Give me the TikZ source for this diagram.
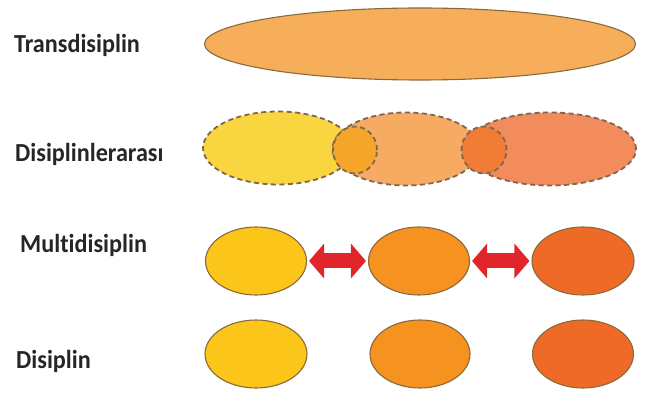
\documentclass[tikz,border=0pt]{standalone}
\usepackage{fontspec}
\setmainfont[RawFeature=-liga]{Carlito}
\usetikzlibrary{shapes.geometric,arrows.meta}
\definecolor{transfill}{HTML}{F6AE5B}
\definecolor{edge}{HTML}{8A6A3C}
\definecolor{dedge}{HTML}{7E6650}
\definecolor{iyel}{HTML}{F9D640}
\definecolor{iora}{HTML}{F6AA62}
\definecolor{ired}{HTML}{F28C5C}
\definecolor{ovA}{HTML}{F5A52A}
\definecolor{ovB}{HTML}{F07C35}
\definecolor{myel}{HTML}{FBC51A}
\definecolor{mora}{HTML}{F6921F}
\definecolor{mred}{HTML}{EE6A26}
\definecolor{arr}{HTML}{E2252A}
\tikzset{
  lab/.style={anchor=base west, font=\bfseries\fontsize{26}{30}\selectfont, text=black!85, inner sep=0pt, xscale=0.93},
  blob/.style={ellipse, draw=edge, line width=1.1pt, inner sep=0pt},
  dblob/.style={ellipse, draw=dedge, line width=1.8pt, dash pattern=on 5pt off 3.5pt, inner sep=0pt},
  fatarrow/.style={draw=arr, line width=15pt, {Triangle[width=34pt,length=15pt]}-{Triangle[width=34pt,length=15pt]}, shorten <=2pt, shorten >=2pt}
}
\begin{document}
\begin{tikzpicture}[x=1pt,y=-1pt]
\useasboundingbox (0,0) rectangle (653,395);
\fill[white] (0,0) rectangle (653,395);
% labels
\node[lab] (lt) at (14,53) {Transdisiplin};
\node[lab] (li) at (15,162) {Disiplinlerarası};
\node[lab] (lm) at (20,253) {Multidisiplin};
\node[lab] (ld) at (16,368) {Disiplin};
% trans
\node[blob, fill=transfill, minimum width=431pt, minimum height=72pt] (t) at (420,44) {};
% inter
\node[dblob, fill=iyel, minimum width=150pt, minimum height=73pt] (i1) at (278,148) {};
\node[dblob, fill=iora, minimum width=147pt, minimum height=73pt] (i2) at (406,149) {};
\node[dblob, fill=ired, minimum width=172pt, minimum height=73pt] (i3) at (550,149) {};
\node[dblob, fill=ovA, minimum width=44pt, minimum height=47pt] (o1) at (355,150) {};
\node[dblob, fill=ovB, minimum width=45pt, minimum height=47pt] (o2) at (484,150) {};
% multi
\node[blob, fill=myel, minimum width=101pt, minimum height=68pt] (m1) at (256,261) {};
\node[blob, fill=mora, minimum width=101pt, minimum height=68pt] (m2) at (419,261) {};
\node[blob, fill=mred, minimum width=102pt, minimum height=68pt] (m3) at (583,261) {};
\draw[fatarrow] (m1) -- (m2);
\draw[fatarrow] (m2) -- (m3);
% disiplin
\node[blob, fill=myel, minimum width=102pt, minimum height=68pt] (d1) at (256,354) {};
\node[blob, fill=mora, minimum width=100pt, minimum height=68pt] (d2) at (420,354) {};
\node[blob, fill=mred, minimum width=101pt, minimum height=68pt] (d3) at (583,354) {};
\end{tikzpicture}
\end{document}
